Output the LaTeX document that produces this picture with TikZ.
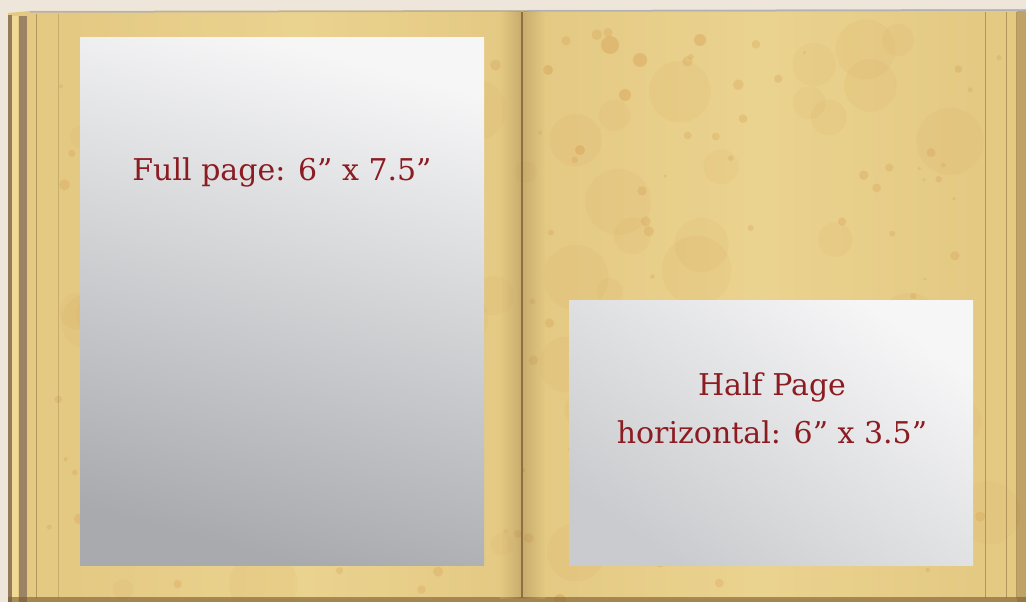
\documentclass[tikz,border=0pt]{standalone}
\usepackage{fontspec}
\setmainfont{DejaVu Serif}
\definecolor{backdrop}{HTML}{EFE6DB}
\definecolor{parch}{HTML}{E4C983}
\definecolor{parchlight}{HTML}{EFDA98}
\definecolor{parchdark}{HTML}{D4964A}
\definecolor{bookbrown}{HTML}{7A5A30}
\definecolor{labelred}{HTML}{8B1C22}
\definecolor{sheettop}{HTML}{F6F6F7}
\definecolor{sheetbot}{HTML}{A8AAAE}
\definecolor{halfbot}{HTML}{CACBCE}

\tikzstyle{sheet} = [anchor=north west, inner sep=0pt, minimum width=404pt]
\tikzstyle{caption} = [text=labelred, font=\fontsize{30}{48}\selectfont, align=center]
\tikzstyle{pageline} = [draw=bookbrown, opacity=0.45, line width=1pt]

\begin{document}
\begin{tikzpicture}[x=1pt, y=-1pt]
\useasboundingbox (0,0) rectangle (1026,602);
%backdrop
\fill[backdrop] (0,0) rectangle (1026,602);
%begin book
\fill[parch] (8,13) -- (30,11) -- (1026,9) -- (1026,602) -- (8,602) -- cycle;
\shade[left color=parch, right color=parchlight, opacity=0.6] (60,13) rectangle (300,598);
\shade[left color=parchlight, right color=parch, opacity=0.6] (300,13) rectangle (515,598);
\shade[left color=parch, right color=parchlight, opacity=0.6] (530,13) rectangle (760,598);
\shade[left color=parchlight, right color=parch, opacity=0.6] (760,13) rectangle (985,598);
%blotches
\pgfmathsetseed{5}
\foreach \i in {1,...,60}{
    \pgfmathsetmacro\px{40+rnd*960}
    \pgfmathsetmacro\py{20+rnd*570}
    \pgfmathsetmacro\pr{10+rnd*25}
    \fill[parchdark, opacity=0.08] (\px,\py) circle (\pr);
}
%spots
\pgfmathsetseed{17}
\foreach \i in {1,...,140}{
    \pgfmathsetmacro\px{40+rnd*960}
    \pgfmathsetmacro\py{20+rnd*570}
    \pgfmathsetmacro\pr{1.5+rnd*4}
    \fill[parchdark, opacity=0.25] (\px,\py) circle (\pr);
}
\foreach \px/\py/\pr in {610/45/9, 640/60/7, 625/95/6, 580/150/5, 700/40/6, 548/70/5, 560/600/6, 660/560/7}
    \fill[parchdark, opacity=0.35] (\px,\py) circle (\pr);
%left edge
\fill[bookbrown!80] (8,15) rectangle (12,602);
\fill[parchlight] (12,16) rectangle (18,602);
\fill[bookbrown!75] (19,16) rectangle (27,602);
\draw[pageline] (36,14) -- (36,598);
\draw[pageline, opacity=0.25] (58,14) -- (58,598);
%right edge
\draw[pageline] (985,12) -- (985,598);
\draw[pageline] (1006,12) -- (1006,598);
\draw[pageline] (1016,12) -- (1016,598);
\fill[bookbrown, opacity=0.35] (1017,10) rectangle (1026,602);
%top and bottom
\draw[gray!60, line width=1.5pt] (30,12) -- (1026,10);
\fill[bookbrown, opacity=0.6] (8,597) rectangle (1026,602);
%spine
\shade[left color=parch, right color=bookbrown, opacity=0.25] (500,12) rectangle (521,598);
\shade[left color=bookbrown, right color=parch, opacity=0.25] (523,12) rectangle (545,598);
\draw[bookbrown, line width=2.5pt, opacity=0.8] (522,12) -- (522,598);
%end book
%begin full page
\node[sheet, minimum height=528pt, top color=sheettop, bottom color=sheetbot, shading angle=-15] (full) at (80,37) {};
\node[caption] (fulltext) at (282,172) {Full page: 6” x 7.5”};
%end full page
%begin half page
\node[sheet, minimum height=265pt, top color=sheettop, bottom color=halfbot, shading angle=-35] (half) at (569,300) {};
\node[caption] (halftext) at (772,408) {Half Page\\horizontal: 6” x 3.5”};
%end half page
\end{tikzpicture}
\end{document}
